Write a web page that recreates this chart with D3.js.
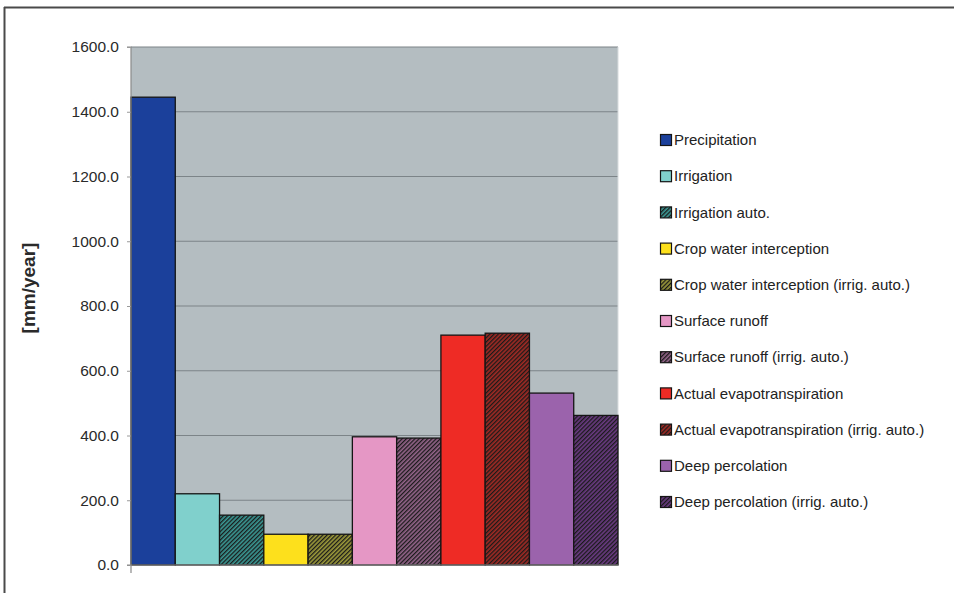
<!DOCTYPE html>
<html><head><meta charset="utf-8">
<script src="https://cdn.jsdelivr.net/npm/d3@7"></script>
<style>body{margin:0;background:#fff}svg{display:block}text{font-family:"Liberation Sans",Arial,sans-serif}</style>
</head><body><svg id="c" width="954" height="593"></svg>
<script>
const categories = ["Precipitation","Irrigation","Irrigation auto.","Crop water interception","Crop water interception (irrig. auto.)","Surface runoff","Surface runoff (irrig. auto.)","Actual evapotranspiration","Actual evapotranspiration (irrig. auto.)","Deep percolation","Deep percolation (irrig. auto.)"];
const values = [1445, 220, 154, 95, 95, 396, 392, 710, 716, 531, 462];
const colors = ["#1b409b","#80d0cc","#3a9894","#fde01c","#9c9a3a","#e597c5","#94648a","#ee2b25","#a02a24","#9b63ac","#6a3a82"];
const hatched = [false,false,true,false,true,false,true,false,true,false,true];
const yTicks = [0,200,400,600,800,1000,1200,1400,1600];

const svg = d3.select("#c");
const m = {l:131, r:618, t:47, b:565};
const x = d3.scaleBand().domain(categories).range([m.l, m.r]).padding(0);
const y = d3.scaleLinear().domain([0,1600]).range([m.b, m.t]);

const defs = svg.append("defs");
categories.forEach((c,i)=>{
  if(!hatched[i]) return;
  const p = defs.append("pattern").attr("id","h"+i).attr("patternUnits","userSpaceOnUse")
    .attr("width",3).attr("height",3).attr("patternTransform","rotate(45)");
  p.append("rect").attr("width",3).attr("height",3).attr("fill",colors[i]);
  p.append("rect").attr("width",1.3).attr("height",3).attr("fill","#1a1a1a");
});

// outer frame (top and left)
svg.append("line").attr("x1",4).attr("x2",954).attr("y1",7.5).attr("y2",7.5).attr("stroke","#4a4a4a").attr("stroke-width",2);
svg.append("line").attr("x1",4.5).attr("x2",4.5).attr("y1",7).attr("y2",593).attr("stroke","#4a4a4a").attr("stroke-width",2);

// plot bg
svg.append("rect").attr("x",m.l).attr("y",m.t).attr("width",m.r-m.l).attr("height",m.b-m.t).attr("fill","#b4bdc1");
// grid
svg.append("g").selectAll("line").data(yTicks.slice(1)).join("line")
  .attr("x1",m.l).attr("x2",m.r).attr("y1",d=>y(d)).attr("y2",d=>y(d))
  .attr("stroke","#7c8488").attr("stroke-width",1.2);
svg.append("line").attr("x1",m.r).attr("x2",m.r).attr("y1",m.t).attr("y2",m.b).attr("stroke","#d8dcde").attr("stroke-width",1);

// bars
svg.append("g").selectAll("rect").data(categories).join("rect")
  .attr("x",d=>x(d)).attr("width",x.bandwidth())
  .attr("y",(d,i)=>y(values[i])).attr("height",(d,i)=>y(0)-y(values[i]))
  .attr("fill",(d,i)=>hatched[i]?`url(#h${i})`:colors[i])
  .attr("stroke","#151515").attr("stroke-width",1.3);

// y axis
const ya = d3.axisLeft(y).tickValues(yTicks).tickFormat(d3.format(".1f")).tickSize(4).tickPadding(8);
const g = svg.append("g").attr("transform",`translate(${m.l},0)`).call(ya);
g.select(".domain").attr("stroke","#8a8a8a").attr("stroke-width",1.2).attr("d",`M-4,${m.t}H0V${m.b+8}`);
g.selectAll(".tick line").attr("stroke","#999");
g.selectAll(".tick text").attr("font-size",15.5).attr("fill","#2a2a2a");
// x axis baseline
svg.append("line").attr("x1",m.l-4).attr("x2",m.r).attr("y1",m.b).attr("y2",m.b).attr("stroke","#8a8a8a").attr("stroke-width",1.2);

// y label
svg.append("text").attr("transform","translate(35,288) rotate(-90)").attr("text-anchor","middle")
  .attr("font-size",19).attr("font-weight","bold").attr("fill","#2a2a2a").text("[mm/year]");

// legend
const lg = svg.append("g").selectAll("g").data(categories).join("g")
  .attr("transform",(d,i)=>`translate(660,${140+i*36.2})`);
lg.append("rect").attr("x",0.5).attr("y",-5.5).attr("width",11).attr("height",11)
  .attr("fill",(d,i)=>hatched[i]?`url(#h${i})`:colors[i]).attr("stroke","#151515").attr("stroke-width",1.2);
lg.append("text").attr("x",14).attr("y",0).attr("dy","0.35em").attr("font-size",15).attr("fill","#222").text(d=>d);
</script></body></html>
